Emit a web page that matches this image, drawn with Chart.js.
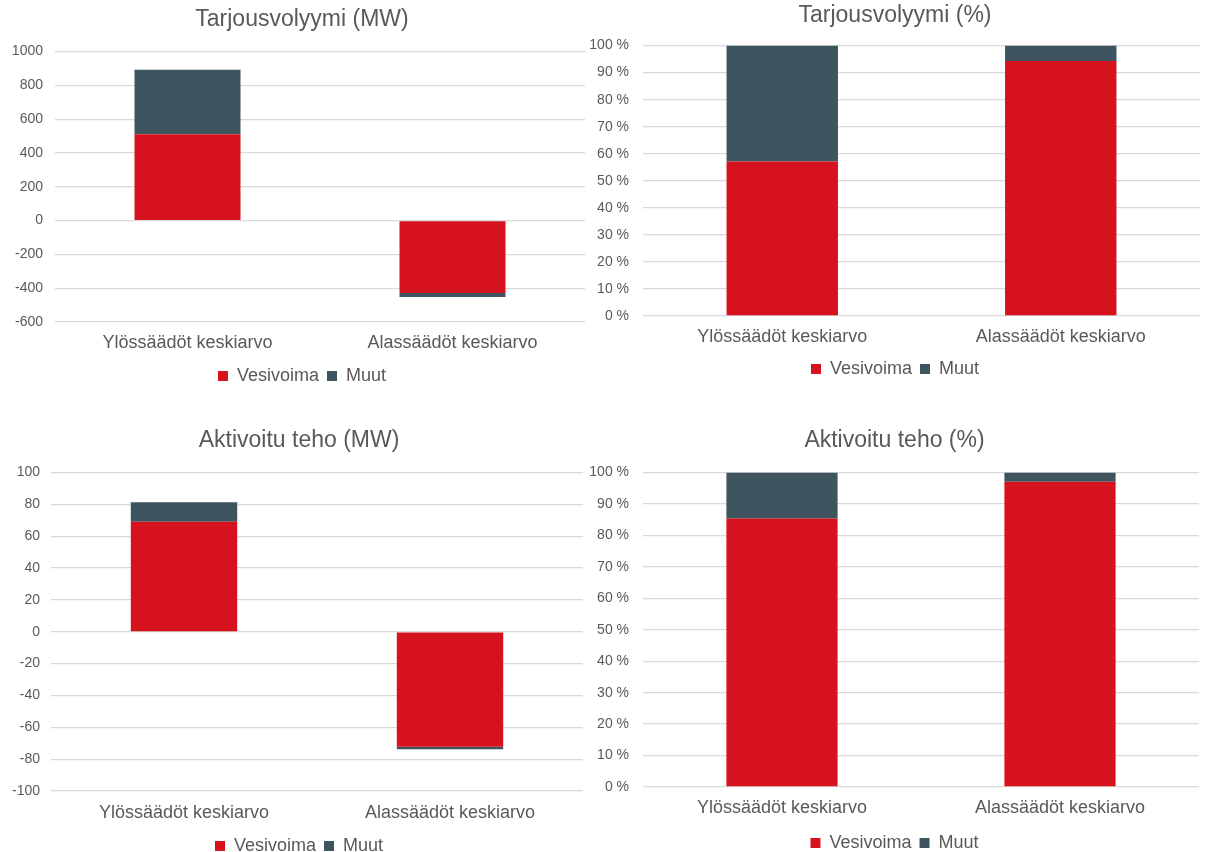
<!DOCTYPE html>
<html>
<head>
<meta charset="utf-8">
<script src="https://cdn.jsdelivr.net/npm/chart.js@4.4.1/dist/chart.umd.min.js"></script>
<style>
  html, body { margin: 0; padding: 0; background: #fff; }
  body { width: 1205px; height: 852px; position: relative; overflow: hidden; }
  .box { position: absolute; }
</style>
</head>
<body>
<div class="box" style="left:0;top:0;width:604px;height:395px"><canvas id="c1"></canvas></div>
<div class="box" style="left:590px;top:0;width:615px;height:388px"><canvas id="c2"></canvas></div>
<div class="box" style="left:0;top:420px;width:598px;height:445px"><canvas id="c3"></canvas></div>
<div class="box" style="left:590px;top:420px;width:615px;height:442px"><canvas id="c4"></canvas></div>
<script>
// Charts for balancing energy volumes

const categories = ['Ylössäädöt keskiarvo', 'Alassäädöt keskiarvo'];
const seriesNames = ['Vesivoima', 'Muut'];

// Tarjousvolyymi (MW)
const offerHydro = [511, -428];
const offerOther = [382, -24];
// Tarjousvolyymi (%)
const offerHydroPct = [57.1, 94.3];
const offerOtherPct = [42.9, 5.7];
// Aktivoitu teho (MW)
const activeHydro = [69.2, -72.2];
const activeOther = [12.1, -1.6];
// Aktivoitu teho (%)
const activeHydroPct = [85.4, 97.1];
const activeOtherPct = [14.6, 2.9];

const mwTicks1 = [-600, 1000, 200];
const mwTicks2 = [-100, 100, 20];
const pctTicks = [0, 100, 10];

const RED = '#D6121F';
const DARK = '#3E545F';
const GRID = '#D9D9D9';
const TEXT = '#595959';
const FONT = "'Liberation Sans', Arial, sans-serif";

Chart.defaults.font.family = FONT;
Chart.defaults.color = TEXT;

function makeChart(id, title, hydro, other, ticks, pct, o) {
    const ctx = document.getElementById(id);
    return new Chart(ctx, {
        type: 'bar',
        data: {
            labels: categories,
            datasets: [
                { label: seriesNames[0], data: hydro, backgroundColor: RED, barPercentage: 0.4, categoryPercentage: 1 },
                { label: seriesNames[1], data: other, backgroundColor: DARK, barPercentage: 0.4, categoryPercentage: 1 }
            ]
        },
        options: {
            responsive: true,
            maintainAspectRatio: false,
            animation: false,
            layout: { padding: { right: o.right, bottom: 0 } },
            plugins: {
                title: {
                    display: true,
                    text: title,
                    color: TEXT,
                    font: { size: 23, weight: 'normal' },
                    padding: { top: o.titleTop, bottom: o.titleBottom }
                },
                legend: {
                    position: 'bottom',
                    labels: {
                        color: TEXT,
                        font: { size: 18 },
                        usePointStyle: true,
                        pointStyle: 'rect',
                        boxWidth: 10,
                        boxHeight: 10,
                        padding: 8
                    }
                },
                tooltip: { enabled: false }
            },
            scales: {
                x: {
                    stacked: true,
                    grid: { display: false },
                    border: { display: false },
                    ticks: { color: TEXT, font: { size: 18 }, padding: o.xPad },
                    afterFit: s => { s.height = o.xHeight; }
                },
                y: {
                    stacked: true,
                    min: ticks[0],
                    max: ticks[1],
                    grid: { color: GRID, lineWidth: 1.3, drawTicks: false },
                    border: { display: false },
                    ticks: {
                        stepSize: ticks[2],
                        color: TEXT,
                        font: { size: 14 },
                        padding: o.yPad,
                        callback: v => pct ? v + ' %' : v
                    },
                    afterFit: s => { s.width = o.yWidth; }
                },
                // empty spacer on the right so the title sits where it does in the original
                spacer: {
                    position: 'right',
                    display: o.spacer > 0,
                    grid: { display: false },
                    border: { display: false },
                    ticks: { display: false },
                    afterFit: s => { s.width = o.spacer; }
                }
            }
        }
    });
}

makeChart('c1', 'Tarjousvolyymi (MW)', offerHydro, offerOther, mwTicks1, false,
    { right: 0, spacer: 19, titleTop: 6, titleBottom: 18, xHeight: 37, xPad: 2, yWidth: 55, yPad: 12 });
makeChart('c2', 'Tarjousvolyymi (%)', offerHydroPct, offerOtherPct, pctTicks, true,
    { right: 5, spacer: 0, titleTop: 2, titleBottom: 16, xHeight: 36, xPad: 2, yWidth: 53, yPad: 14 });
makeChart('c3', 'Aktivoitu teho (MW)', activeHydro, activeOther, mwTicks2, false,
    { right: 0, spacer: 15, titleTop: 7, titleBottom: 18, xHeight: 38, xPad: 3, yWidth: 51, yPad: 11 });
makeChart('c4', 'Aktivoitu teho (%)', activeHydroPct, activeOtherPct, pctTicks, true,
    { right: 6, spacer: 0, titleTop: 7, titleBottom: 18, xHeight: 39, xPad: 2, yWidth: 53, yPad: 14 });
</script>
</body>
</html>
